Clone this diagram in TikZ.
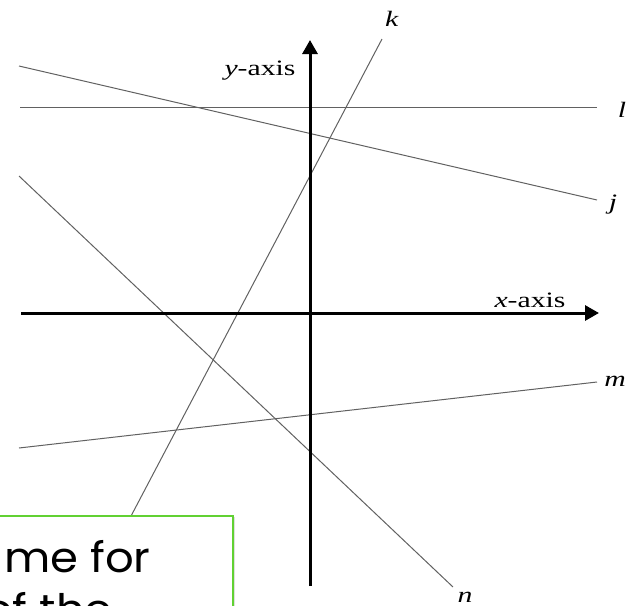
\documentclass[tikz,border=0pt]{standalone}
\usepackage{fontspec}
\setmainfont{Liberation Serif}
\newfontfamily\notefont{Poppins}
\usetikzlibrary{arrows.meta, shadows}

\tikzset{
  lbl/.style={font=\fontsize{22}{22}\selectfont, xscale=1.35, inner sep=0pt, anchor=base},
  thinline/.style={line width=1pt, black!62},
  axisline/.style={line width=3pt, -{Triangle[length=14pt, width=15pt]}},
  notetext/.style={font=\notefont\fontsize{42}{42}\selectfont, xscale=1.07, inner sep=0pt, anchor=base west},
  notebox/.style={draw=green!55!olive!80, line width=1.5pt, fill=white,
    drop shadow={opacity=0.25, shadow xshift=2pt, shadow yshift=-1pt}}
}

\begin{document}
\begin{tikzpicture}[x=1pt, y=-1pt]
  \useasboundingbox (0,0) rectangle (633,606);
  \clip (0,0) rectangle (633,606);

  % ── line ends ──
  \coordinate (l0) at (20,107);  \coordinate (l1) at (597,107);
  \coordinate (j0) at (19,66);   \coordinate (j1) at (597,200);
  \coordinate (m0) at (19,448);  \coordinate (m1) at (597,382);
  \coordinate (n0) at (19,176);  \coordinate (n1) at (453,587);
  \coordinate (k0) at (382,39);  \coordinate (k1) at (100,575);
  \coordinate (xa) at (21,313);  \coordinate (xb) at (599,313);
  \coordinate (ya) at (310,586); \coordinate (yb) at (310,40);

  % ── lines ──
  \draw[thinline] (l0) -- (l1);
  \draw[thinline] (j0) -- (j1);
  \draw[thinline] (m0) -- (m1);
  \draw[thinline] (n0) -- (n1);
  \draw[thinline] (k0) -- (k1);

  % ── axes ──
  \draw[axisline] (xa) -- (xb);
  \draw[axisline] (ya) -- (yb);

  % ── labels ──
  \node[lbl] (lk) at (392,26)  {\textit{k}};
  \node[lbl] (ly) at (260,75)  {\textit{y}-axis};
  \node[lbl] (ll) at (622,117) {\textit{l}};
  \node[lbl] (lj) at (613,209) {\textit{j}};
  \node[lbl] (lx) at (530,307) {\textit{x}-axis};
  \node[lbl] (lm) at (615,386) {\textit{m}};
  \node[lbl] (ln) at (465,602) {\textit{n}};

  % ── note box ──
  \path[notebox] (-10,516) rectangle (233,640);
  \node[notetext] (note1) at (4,572)  {me for};
  \node[notetext] (note2) at (-16,624) {of the};
\end{tikzpicture}
\end{document}
